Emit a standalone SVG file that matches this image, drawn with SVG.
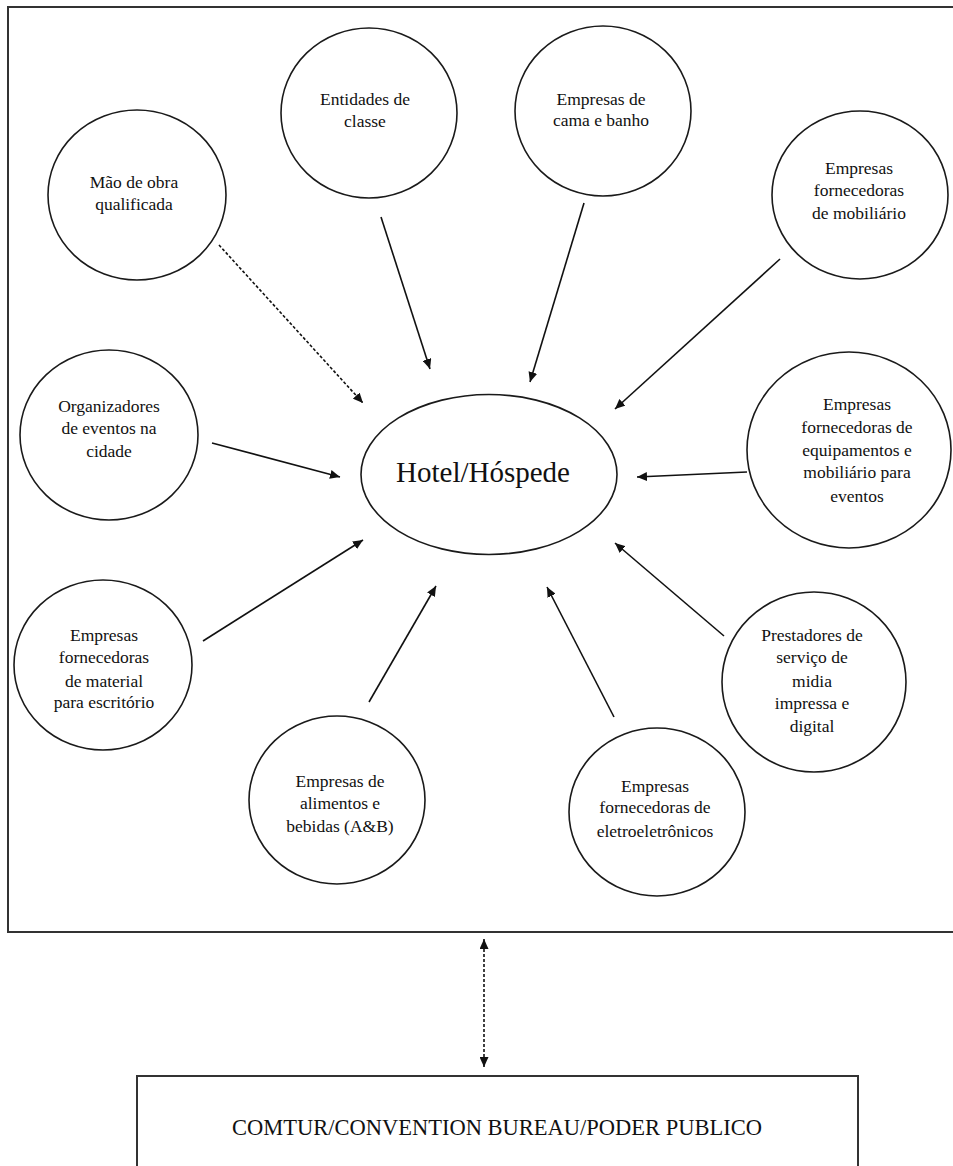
<svg xmlns="http://www.w3.org/2000/svg" width="953" height="1166" viewBox="0 0 953 1166">
<style>
  .node { fill: #fff; stroke: #1a1a1a; stroke-width: 1.6; }
  .frame { fill: none; stroke: #333; stroke-width: 2; }
  .lbl { font-family: "Liberation Serif", "Times New Roman", serif; font-size: 17.5px; fill: #111; text-anchor: middle; }
  .big { font-family: "Liberation Serif", "Times New Roman", serif; font-size: 29px; fill: #111; text-anchor: middle; }
  .bottom { font-family: "Liberation Serif", "Times New Roman", serif; font-size: 22.5px; fill: #111; text-anchor: middle; }
  .con { stroke: #111; stroke-width: 1.6; fill: none; marker-end: url(#ah); }
  .dash { stroke-dasharray: 3 2; }
</style>
<defs>
  <marker id="ah" markerUnits="userSpaceOnUse" markerWidth="11" markerHeight="9" refX="10" refY="4.5" orient="auto">
    <path d="M0,0 L10,4.5 L0,9 z" fill="#111"/>
  </marker>
  <marker id="ahs" markerUnits="userSpaceOnUse" markerWidth="11" markerHeight="9" refX="10" refY="4.5" orient="auto-start-reverse">
    <path d="M0,0 L10,4.5 L0,9 z" fill="#111"/>
  </marker>
</defs>
<rect width="953" height="1166" fill="#fff"/>
<rect id="frame" class="frame" x="8" y="7" width="960" height="925"/>

<g id="connectors">
  <line class="con dash" x1="219" y1="245" x2="363" y2="403"/>
  <line class="con" x1="381" y1="217" x2="430" y2="369"/>
  <line class="con" x1="584" y1="203" x2="530" y2="382"/>
  <line class="con" x1="780" y1="259" x2="615" y2="409"/>
  <line class="con" x1="747" y1="472" x2="637" y2="477"/>
  <line class="con" x1="212" y1="443" x2="340" y2="477"/>
  <line class="con" x1="203" y1="641" x2="363" y2="540"/>
  <line class="con" x1="369" y1="702" x2="436" y2="586"/>
  <line class="con" x1="614" y1="717" x2="547" y2="587"/>
  <line class="con" x1="724" y1="636" x2="615" y2="543"/>
  <line class="dash" x1="484" y1="939" x2="484" y2="1067" stroke="#111" stroke-width="1.6" marker-start="url(#ahs)" marker-end="url(#ahs)"/>
</g>

<g id="hotel">
  <ellipse class="node" cx="489" cy="474.5" rx="128" ry="80"/>
  <text class="big" x="483" y="482">Hotel/Hóspede</text>
</g>

<g id="mao-de-obra">
  <ellipse class="node" cx="137" cy="195" rx="89" ry="85"/>
  <text class="lbl" x="134" y="188">Mão de obra</text>
  <text class="lbl" x="134" y="210">qualificada</text>
</g>

<g id="entidades">
  <ellipse class="node" cx="369" cy="113" rx="88" ry="85"/>
  <text class="lbl" x="365" y="105">Entidades de</text>
  <text class="lbl" x="365" y="127">classe</text>
</g>

<g id="cama-banho">
  <ellipse class="node" cx="603" cy="111" rx="88" ry="85"/>
  <text class="lbl" x="601" y="105">Empresas de</text>
  <text class="lbl" x="601" y="126">cama e banho</text>
</g>

<g id="mobiliario">
  <ellipse class="node" cx="860" cy="195" rx="88" ry="84"/>
  <text class="lbl" x="859" y="174">Empresas</text>
  <text class="lbl" x="859" y="196">fornecedoras</text>
  <text class="lbl" x="859" y="219">de mobiliário</text>
</g>

<g id="organizadores">
  <ellipse class="node" cx="109" cy="435" rx="89" ry="85"/>
  <text class="lbl" x="109" y="412">Organizadores</text>
  <text class="lbl" x="109" y="434">de eventos na</text>
  <text class="lbl" x="109" y="457">cidade</text>
</g>

<g id="equipamentos">
  <ellipse class="node" cx="849" cy="450" rx="102" ry="98"/>
  <text class="lbl" x="857" y="410">Empresas</text>
  <text class="lbl" x="857" y="433">fornecedoras de</text>
  <text class="lbl" x="857" y="456">equipamentos e</text>
  <text class="lbl" x="857" y="478">mobiliário para</text>
  <text class="lbl" x="857" y="502">eventos</text>
</g>

<g id="material">
  <ellipse class="node" cx="103" cy="665" rx="89" ry="85"/>
  <text class="lbl" x="104" y="641">Empresas</text>
  <text class="lbl" x="104" y="663">fornecedoras</text>
  <text class="lbl" x="104" y="687">de material</text>
  <text class="lbl" x="104" y="708">para escritório</text>
</g>

<g id="prestadores">
  <ellipse class="node" cx="814" cy="682" rx="92" ry="90"/>
  <text class="lbl" x="812" y="641">Prestadores de</text>
  <text class="lbl" x="812" y="663">serviço de</text>
  <text class="lbl" x="812" y="687">midia</text>
  <text class="lbl" x="812" y="709">impressa e</text>
  <text class="lbl" x="812" y="732">digital</text>
</g>

<g id="alimentos">
  <ellipse class="node" cx="337" cy="800" rx="88" ry="84"/>
  <text class="lbl" x="340" y="787">Empresas de</text>
  <text class="lbl" x="340" y="809">alimentos e</text>
  <text class="lbl" x="340" y="832">bebidas (A&amp;B)</text>
</g>

<g id="eletro">
  <ellipse class="node" cx="657" cy="812" rx="88" ry="84"/>
  <text class="lbl" x="655" y="792">Empresas</text>
  <text class="lbl" x="655" y="813">fornecedoras de</text>
  <text class="lbl" x="655" y="837">eletroeletrônicos</text>
</g>

<g id="comtur">
  <rect class="frame" x="137" y="1076" width="721" height="110"/>
  <text class="bottom" x="497" y="1135">COMTUR/CONVENTION BUREAU/PODER PUBLICO</text>
</g>
</svg>
